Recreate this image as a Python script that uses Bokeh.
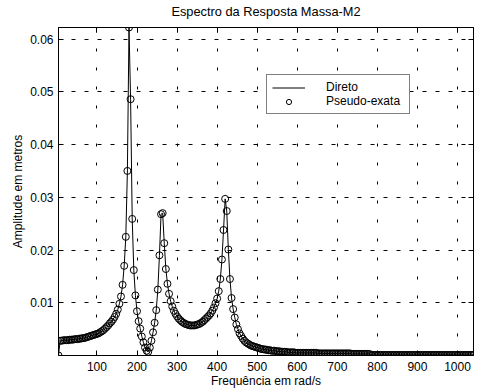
from bokeh.plotting import figure
from bokeh.models import Range1d, FixedTicker, LinearAxis, Legend, LegendItem
from bokeh.embed import file_html
from bokeh.resources import INLINE

TITLE = "Espectro da Resposta Massa-M2"
X_LABEL = "Frequência em rad/s"
Y_LABEL = "Amplitude em metros"

X_TICKS = [100, 200, 300, 400, 500, 600, 700, 800, 900, 1000]
Y_TICKS = [0.01, 0.02, 0.03, 0.04, 0.05, 0.06]
Y_TICK_LABELS = ["0.01", "0.02", "0.03", "0.04", "0.05", "0.06"]

# amplitude (m), one value every 4 rad/s starting at 4 rad/s
AMP = [
    0.0000, 0.0028, 0.0028, 0.0029, 0.0029, 0.0029, 0.0029, 0.0030, 0.0030, 0.0030,
    0.0031, 0.0031, 0.0031, 0.0032, 0.0032, 0.0033, 0.0033, 0.0034, 0.0035, 0.0036,
    0.0037, 0.0038, 0.0039, 0.0040, 0.0041, 0.0042, 0.0044, 0.0046, 0.0048, 0.0051,
    0.0054, 0.0057, 0.0061, 0.0064, 0.0068, 0.0073, 0.0079, 0.0087, 0.0098, 0.0112,
    0.0134, 0.0170, 0.0225, 0.0350, 0.0622, 0.0486, 0.0259, 0.0162, 0.0114, 0.0084,
    0.0065, 0.0051, 0.0036, 0.0025, 0.0015, 0.0009, 0.0007, 0.0015, 0.0028, 0.0044,
    0.0062, 0.0086, 0.0125, 0.0190, 0.0268, 0.0270, 0.0213, 0.0164, 0.0136, 0.0117,
    0.0103, 0.0093, 0.0085, 0.0079, 0.0074, 0.0070, 0.0067, 0.0064, 0.0062, 0.0060,
    0.0059, 0.0058, 0.0057, 0.0057, 0.0057, 0.0057, 0.0058, 0.0059, 0.0060, 0.0062,
    0.0064, 0.0067, 0.0070, 0.0073, 0.0076, 0.0080, 0.0085, 0.0091, 0.0099, 0.0108,
    0.0122, 0.0145, 0.0182, 0.0238, 0.0297, 0.0274, 0.0201, 0.0145, 0.0109, 0.0088,
    0.0072, 0.0059, 0.0050, 0.0042, 0.0037, 0.0032, 0.0028, 0.0025, 0.0023, 0.0021,
    0.0019, 0.0018, 0.0017, 0.0016, 0.0015, 0.0014, 0.0013, 0.0012, 0.0012, 0.0011,
    0.0011, 0.0010, 0.0010, 0.0009, 0.0009, 0.0009, 0.0008, 0.0008, 0.0008, 0.0007,
    0.0007, 0.0007, 0.0007, 0.0006, 0.0006, 0.0006, 0.0006, 0.0006, 0.0005, 0.0005,
    0.0005, 0.0005, 0.0005, 0.0005, 0.0005, 0.0005, 0.0005, 0.0005, 0.0005, 0.0005,
    0.0005, 0.0005, 0.0004, 0.0004, 0.0004, 0.0004, 0.0004, 0.0004, 0.0004, 0.0004,
    0.0004, 0.0004, 0.0004, 0.0004, 0.0004, 0.0004, 0.0004, 0.0004, 0.0004, 0.0004,
    0.0004, 0.0004, 0.0004, 0.0003, 0.0003, 0.0003, 0.0003, 0.0003, 0.0003, 0.0003,
    0.0003, 0.0003, 0.0003, 0.0003, 0.0003, 0.0001, 0.0001, 0.0001, 0.0001, 0.0001,
    0.0001, 0.0001, 0.0001, 0.0001, 0.0001, 0.0001, 0.0001, 0.0001, 0.0001, 0.0001,
    0.0001, 0.0001, 0.0001, 0.0001, 0.0001, 0.0001, 0.0001, 0.0001, 0.0001, 0.0001,
    0.0001, 0.0001, 0.0001, 0.0001, 0.0001, 0.0001, 0.0001, 0.0001, 0.0001, 0.0001,
    0.0001, 0.0001, 0.0001, 0.0001, 0.0001, 0.0001, 0.0001, 0.0001, 0.0001, 0.0001,
    0.0001, 0.0001, 0.0001, 0.0001, 0.0001, 0.0001, 0.0001, 0.0001, 0.0001, 0.0001,
    0.0001, 0.0001, 0.0001, 0.0001, 0.0001, 0.0001, 0.0001, 0.0001, 0.0001, 0.0001,
]
FREQ_START = 4
FREQ_STEP = 4
FREQ = [FREQ_START + FREQ_STEP * i for i in range(len(AMP))]

SERIES_LINE = "Direto"
SERIES_PTS = "Pseudo-exata"

FONT = "Liberation Sans"
FS = "12px"

p = figure(width=477, height=391, output_backend="svg", toolbar_location=None,
           x_range=Range1d(FREQ[0], FREQ[-1]), y_range=Range1d(0, max(AMP)),
           min_border_left=58, min_border_right=4, min_border_top=27, min_border_bottom=36)
p.background_fill_color = "white"
p.border_fill_color = "white"
p.outline_line_color = "black"
p.outline_line_width = 1
p.title.visible = False

def style_axis(ax, labels=True):
    ax.axis_line_color = "black"
    ax.major_tick_line_color = "black"
    ax.major_tick_in = 5
    ax.major_tick_out = 0
    ax.minor_tick_line_color = None
    ax.major_label_text_font = FONT
    ax.axis_label_text_font = FONT
    ax.axis_label_text_font_style = "normal"
    ax.axis_label_text_color = "black"
    ax.axis_label_text_font_size = FS
    if labels:
        ax.major_label_text_font_size = FS
        ax.major_label_text_color = "black"
    else:
        ax.major_label_text_color = None
        ax.major_label_standoff = 0

xa = p.xaxis[0]
xa.ticker = FixedTicker(ticks=X_TICKS)
style_axis(xa)
xa.axis_label = X_LABEL
xa.major_label_standoff = 6
xa.axis_label_standoff = 0

ya = p.yaxis[0]
ya.ticker = FixedTicker(ticks=Y_TICKS)
ya.major_label_overrides = {t: s for t, s in zip(Y_TICKS, Y_TICK_LABELS)}
style_axis(ya)
ya.axis_label = Y_LABEL
ya.major_label_standoff = 5
ya.axis_label_standoff = 2

# top axis: ticks only, carries the chart title as its label
top = LinearAxis(ticker=FixedTicker(ticks=X_TICKS))
style_axis(top, labels=False)
top.axis_label = TITLE
top.axis_label_text_font_size = "12.8px"
top.axis_label_standoff = 9
p.add_layout(top, "above")
right = LinearAxis(ticker=FixedTicker(ticks=Y_TICKS))
style_axis(right, labels=False)
p.add_layout(right, "right")

p.xgrid.ticker = FixedTicker(ticks=X_TICKS)
p.ygrid.ticker = FixedTicker(ticks=Y_TICKS)
p.xgrid.grid_line_color = "black"
p.xgrid.grid_line_dash = "3 16"
p.xgrid.grid_line_width = 1
p.ygrid.grid_line_color = "black"
p.ygrid.grid_line_dash = "4 9"
p.ygrid.grid_line_width = 1

r_line = p.line(FREQ, AMP, line_color="black", line_width=1)
r_pts = p.scatter(FREQ, AMP, marker="circle", size=7, fill_color=None,
                  line_color="black", line_width=1)

legend = Legend(items=[LegendItem(label=SERIES_LINE, renderers=[r_line]),
                       LegendItem(label=SERIES_PTS, renderers=[r_pts])],
                location=(208, 241))
legend.border_line_color = "black"
legend.border_line_width = 1.5
legend.background_fill_color = "white"
legend.background_fill_alpha = 1
legend.label_text_font = FONT
legend.label_text_font_size = FS
legend.label_text_color = "black"
legend.glyph_width = 33
legend.glyph_height = 13
legend.label_height = 13
legend.label_width = 78
legend.label_standoff = 21
legend.spacing = 0
legend.padding = 5
legend.margin = 0
p.add_layout(legend)

open("out.html", "w").write(file_html(p, INLINE))
